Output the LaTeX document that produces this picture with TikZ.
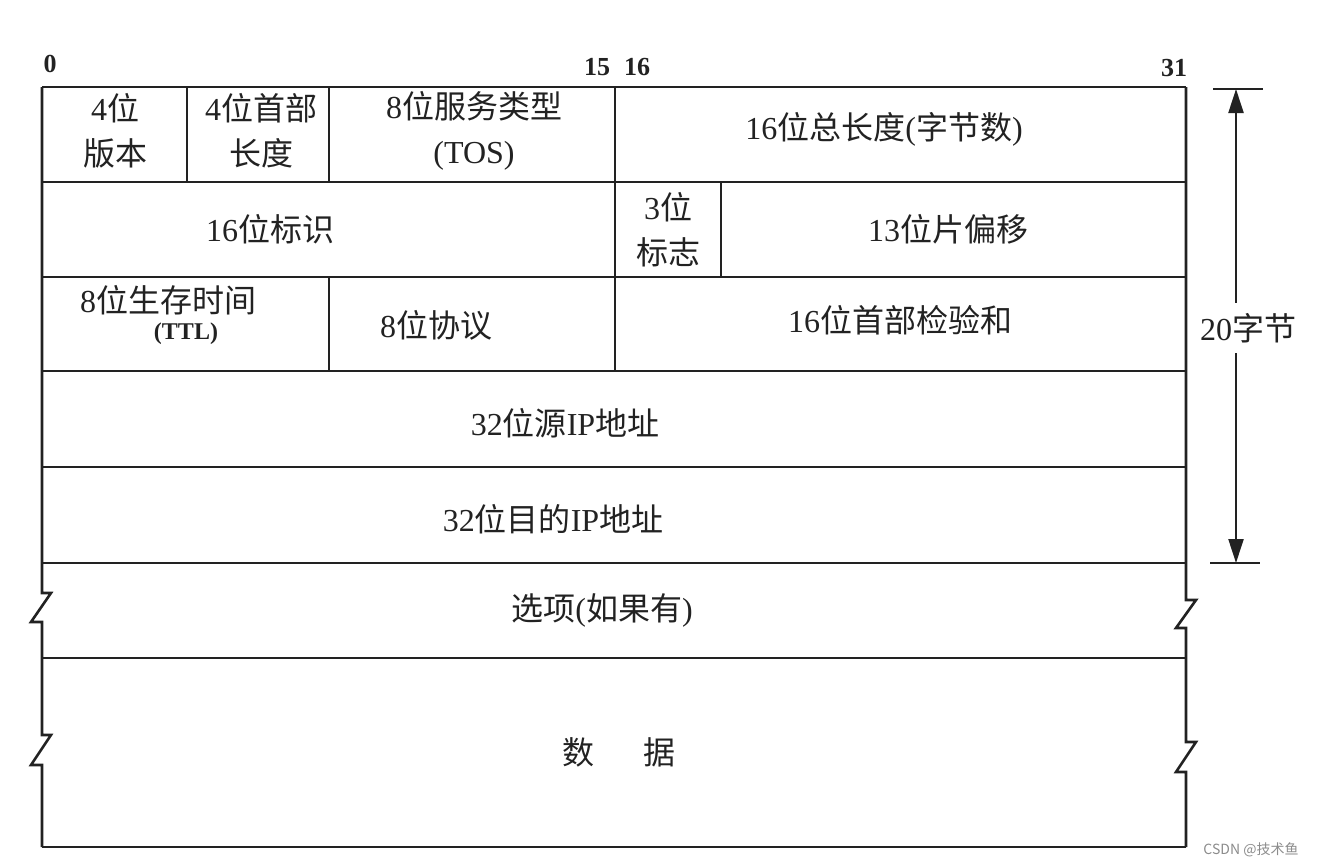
\documentclass[tikz,border=0pt]{standalone}
\usepackage{fontspec}
\setmainfont{Liberation Serif}
\newfontfamily\cjk{Noto Sans CJK SC}
\newcommand\zh[1]{{\cjk #1}}
\usetikzlibrary{arrows.meta}
\definecolor{ink}{HTML}{222222}
\tikzset{
  grid/.style={draw=ink, line width=2.6pt, line join=miter},
  txt/.style={inner sep=0pt, align=center, text=ink, font=\fontsize{32}{45}\selectfont},
  bitnum/.style={inner sep=0pt, text=ink, font=\fontsize{26}{30}\selectfont\bfseries},
  dimline/.style={draw=ink, line width=2.2pt},
  dimarrow/.style={dimline, -{Triangle[length=24pt,width=15pt]}},
  wmark/.style={inner sep=0pt, text=black!45, font=\cjk\fontsize{14}{16}\selectfont}
}
\begin{document}
\begin{tikzpicture}[x=1pt, y=-1pt]
\useasboundingbox[fill=white] (0,0) rectangle (1317,867);

% outer frame and row lines
\draw[grid] (42,87) -- (1186,87);
\foreach \yy in {182,277,371,467,563,658,847}
  \draw[grid] (42,\yy) -- (1186,\yy);
\draw[grid] (42,87) -- (42,593) -- (51,593) -- (31,622) -- (42,622) -- (42,735) -- (51,735) -- (31,765) -- (42,765) -- (42,847);
\draw[grid] (1186,87) -- (1186,600) -- (1196,600) -- (1176,628) -- (1186,628) -- (1186,742) -- (1196,742) -- (1176,772) -- (1186,772) -- (1186,847);
% column separators
\draw[grid] (187,87) -- (187,182);
\draw[grid] (329,87) -- (329,182);
\draw[grid] (615,87) -- (615,371);
\draw[grid] (721,182) -- (721,277);
\draw[grid] (329,277) -- (329,371);

% bit numbers
\node[bitnum] (b0) at (50,64) {0};
\node[bitnum] (b15) at (597,67) {15};
\node[bitnum] (b16) at (637,67) {16};
\node[bitnum] (b31) at (1174,68) {31};

% fields
\node[txt] (ver) at (115,131) {4\zh{位}\\\zh{版本}};
\node[txt] (ihl) at (261,131) {4\zh{位首部}\\\zh{长度}};
\node[txt] (tos) at (474,131) {8\zh{位服务类型}\\(TOS)};
\node[txt] (tlen) at (884,129) {16\zh{位总长度}(\zh{字节数})};
\node[txt] (ident) at (270,229) {16\zh{位标识}};
\node[txt] (flg) at (668,230) {3\zh{位}\\\zh{标志}};
\node[txt] (frag) at (948,229) {13\zh{位片偏移}};
\node[txt] (ttl) at (168,300) {8\zh{位生存时间}};
\node[txt, font=\fontsize{24}{28}\selectfont\bfseries] (ttlb) at (186,334) {(TTL)};
\node[txt] (proto) at (436,325) {8\zh{位协议}};
\node[txt] (cks) at (900,320) {16\zh{位首部检验和}};
\node[txt] (src) at (565,423) {32\zh{位源}IP\zh{地址}};
\node[txt] (dst) at (553,519) {32\zh{位目的}IP\zh{地址}};
\node[txt] (opt) at (602,610) {\zh{选项}(\zh{如果有})};
\node[txt] (data) at (619,752) {\zh{数}\hspace{50pt}\zh{据}};

% 20 byte dimension
\coordinate (ttop) at (1236,89);
\coordinate (tbot) at (1236,563);
\draw[dimline] ([xshift=-23pt]ttop) -- ([xshift=27pt]ttop);
\draw[dimline] ([xshift=-26pt]tbot) -- ([xshift=24pt]tbot);
\node[txt, fill=white, inner ysep=10pt, inner xsep=2pt] (hdr) at (1248,328) {20\zh{字节}};
\draw[dimarrow] (hdr.north -| ttop) -- (ttop);
\draw[dimarrow] (hdr.south -| tbot) -- (tbot);

% watermark
\node[wmark] (wm) at (1251,850) {CSDN @技术鱼};
\end{tikzpicture}
\end{document}
